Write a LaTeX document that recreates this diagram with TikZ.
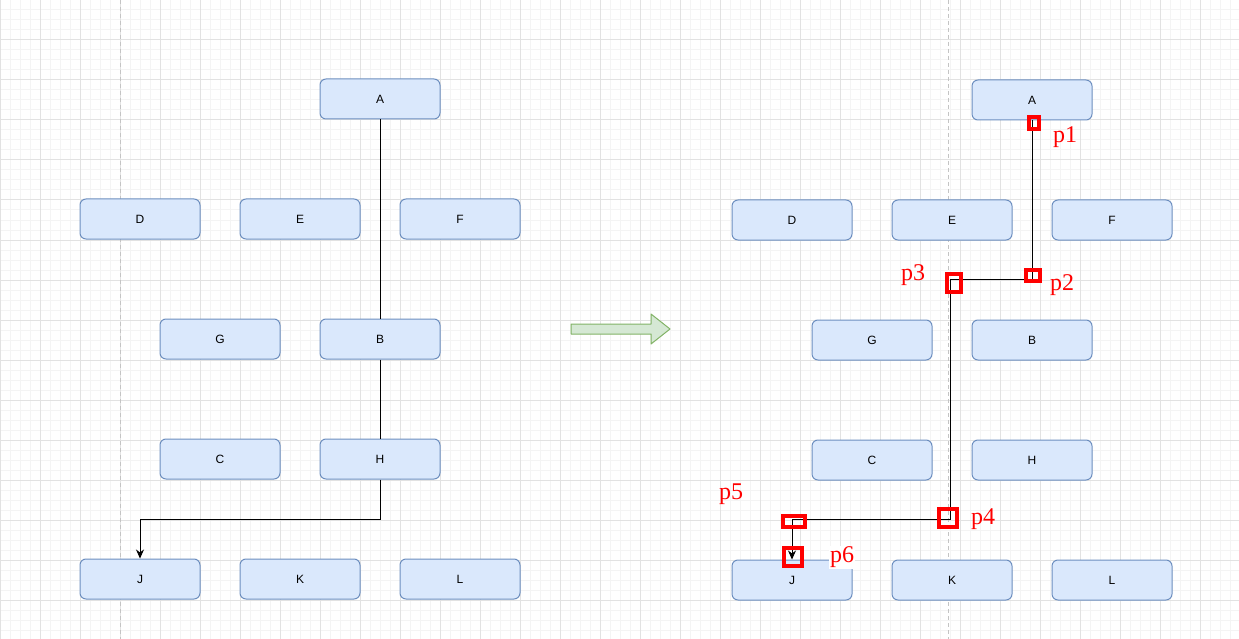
\documentclass[tikz,border=0pt]{standalone}
\usepackage{fontspec}
\setmainfont{Liberation Sans}
\newfontfamily\ptfont{Liberation Serif}
\usetikzlibrary{arrows.meta}

\definecolor{boxfill}{HTML}{DAE8FC}
\definecolor{boxline}{HTML}{6C8EBF}
\definecolor{arrfill}{HTML}{D5E8D4}
\definecolor{arrline}{HTML}{82B366}
\definecolor{ptred}{HTML}{FF0000}
\definecolor{gridminor}{HTML}{F4F4F4}
\definecolor{gridmajor}{HTML}{E2E2E2}
\definecolor{pagebreak}{HTML}{C4C4C4}

\begin{document}
\begin{tikzpicture}[
    x=1pt,
    y=-1pt,
    blockbox/.style={draw=boxline, fill=boxfill, rounded corners=6pt, line width=1pt,
        minimum width=120pt, minimum height=40pt, inner sep=0pt,
        font=\fontsize{12}{14}\selectfont},
    conn/.style={black, line width=0.8pt},
    connarrow/.style={conn, -{Stealth[length=9pt, width=8pt]}},
    redsq/.style={draw=ptred, line width=4pt, inner sep=0pt},
    ptlabel/.style={text=ptred, inner sep=1pt, font=\ptfont\fontsize{24}{26}\selectfont},
    minorline/.style={gridminor, line width=1pt},
    majorline/.style={gridmajor, line width=1pt},
    breakline/.style={pagebreak, line width=1pt, dash pattern=on 4pt off 3pt},
    bigarrow/.style={draw=arrline, fill=arrfill, line width=1pt, line join=round}
]

% =========================================================
% SFONDO E GRIGLIA
% =========================================================

\fill[white] (0,0) rectangle (1239,639);
\useasboundingbox (0,0) rectangle (1239,639);

% Griglia fine
\foreach \gx in {10,20,...,1230} \draw[minorline] (\gx,0) -- (\gx,639);
\foreach \gy in {10,20,...,630} \draw[minorline] (0,\gy) -- (1239,\gy);

% Griglia grossa
\foreach \gx in {0,40,...,1239} \draw[majorline] (\gx,0) -- (\gx,639);
\foreach \gy in {0,40,...,639} \draw[majorline] (0,\gy) -- (1239,\gy);

% Interruzioni di pagina
\draw[breakline] (120,0) -- (120,639);
\draw[breakline] (948,0) -- (948,639);

% =========================================================
% SCHEMA DI SINISTRA
% =========================================================

\node[blockbox] (lA) at (380,99) {A};

\node[blockbox] (lD) at (140,219) {D};
\node[blockbox] (lE) at (300,219) {E};
\node[blockbox] (lF) at (460,219) {F};

\node[blockbox] (lG) at (220,339) {G};
\node[blockbox] (lB) at (380,339) {B};

\node[blockbox] (lC) at (220,459) {C};
\node[blockbox] (lH) at (380,459) {H};

\node[blockbox] (lJ) at (140,579) {J};
\node[blockbox] (lK) at (300,579) {K};
\node[blockbox] (lL) at (460,579) {L};

% Collegamenti
\draw[conn] (lA.south) -- (lB.north);
\draw[conn] (lB.south) -- (lH.north);
\draw[connarrow] (lH.south) -- (380,519) -| (lJ.north);

% =========================================================
% FRECCIA CENTRALE
% =========================================================

\draw[bigarrow]
(571,324) -- (651,324) -- (651,314) -- (670,329)
-- (651,344) -- (651,334) -- (571,334) -- cycle;

% =========================================================
% SCHEMA DI DESTRA
% =========================================================

\node[blockbox] (rA) at (1032,100) {A};

\node[blockbox] (rD) at (792,220) {D};
\node[blockbox] (rE) at (952,220) {E};
\node[blockbox] (rF) at (1112,220) {F};

\node[blockbox] (rG) at (872,340) {G};
\node[blockbox] (rB) at (1032,340) {B};

\node[blockbox] (rC) at (872,460) {C};
\node[blockbox] (rH) at (1032,460) {H};

\node[blockbox] (rJ) at (792,580) {J};
\node[blockbox] (rK) at (952,580) {K};
\node[blockbox] (rL) at (1112,580) {L};

% Punti di passaggio
\coordinate (q2) at (1032,279);
\coordinate (q3) at (950,279);
\coordinate (q4) at (950,519);
\coordinate (q5) at (792,519);

\draw[connarrow] (rA.south) -- (q2) -- (q3) -- (q4) -- (q5) -- (rJ.north);

% Quadrati rossi
\node[redsq, minimum width=10pt, minimum height=12pt] (s1) at (1034,123) {};
\node[redsq, minimum width=14pt, minimum height=11pt] (s2) at (1033,275.5) {};
\node[redsq, minimum width=14pt, minimum height=18pt] (s3) at (954,283) {};
\node[redsq, minimum width=18pt, minimum height=18pt] (s4) at (948,518) {};
\node[redsq, minimum width=22pt, minimum height=11pt] (s5) at (794,521.5) {};
\node[redsq, minimum width=18pt, minimum height=18pt] (s6) at (793,557) {};

% Etichette
\node[ptlabel] (t1) at (1065,137) {p1};
\node[ptlabel] (t2) at (1062,285) {p2};
\node[ptlabel] (t3) at (913,275) {p3};
\node[ptlabel] (t4) at (983,519) {p4};
\node[ptlabel] (t5) at (731,494) {p5};
\node[ptlabel, fill=white] (t6) at (842,557) {p6};

\end{tikzpicture}
\end{document}
